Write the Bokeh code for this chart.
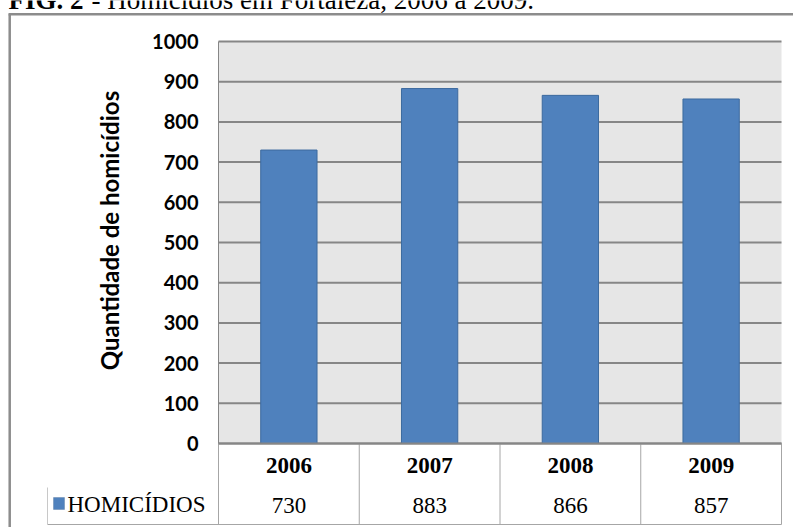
import math
from bokeh.plotting import figure
from bokeh.models import Range1d, FixedTicker, Label, BoxAnnotation, ColumnDataSource
from bokeh.core.properties import value
from bokeh.embed import file_html
from bokeh.resources import INLINE

# ---- data ----
years = ["2006", "2007", "2008", "2009"]
homicidios = [730, 883, 866, 857]
y_ticks = [0, 100, 200, 300, 400, 500, 600, 700, 800, 900, 1000]
series_name = "HOMICÍDIOS"
y_label = "Quantidade de homicídios"
title_bold = "FIG. 2"
title_rest = "- Homicídios em Fortaleza, 2006 a 2009."

# ---- layout (pixels) ----
W, H = 793, 527
FL, FR, FT, FB = 218, 781, 41, 443      # plot area inside the page
TABLE_BOTTOM = 524
Y_MAX = 1000
N = len(years)

BAR = "#4F81BD"
BAR_EDGE = "#3C6A9E"
GRID = "#868686"
TABLE = "#a6a6a6"
FRAME = "#8c8c8c"
SERIF = "Liberation Serif"
SANS = "Lato"


def dx(px):
    return (px - FL) / (FR - FL) * N


def dy(py):
    return (FB - py) / (FB - FT) * Y_MAX


x_pos = [i + 0.5 for i in range(N)]          # category centres
x_edges = list(range(N + 1))                 # category boundaries

p = figure(width=W, height=H,
           x_range=Range1d(dx(0), dx(W)),
           y_range=Range1d(dy(H), dy(0)),
           output_backend="svg", toolbar_location=None, min_border=0)

p.background_fill_color = "white"
p.border_fill_color = "white"
p.outline_line_color = None
p.xgrid.visible = False
p.ygrid.visible = False

# grey plot area
p.add_layout(BoxAnnotation(left=0, right=N, bottom=0, top=Y_MAX,
                           fill_color="#E6E6E6", fill_alpha=1,
                           line_alpha=0, level="image"))

# horizontal grid lines limited to the plot area
p.segment(x0=[0] * len(y_ticks), y0=y_ticks, x1=[N] * len(y_ticks), y1=y_ticks,
          line_color=GRID, line_width=2, level="underlay")

p.vbar(x=x_pos, top=homicidios, width=0.4, fill_color=BAR,
       line_color=BAR_EDGE, line_width=1)

# y axis (drawn at the left edge of the plot area)
ya = p.yaxis[0]
ya.fixed_location = 0
ya.bounds = (0, Y_MAX)
ya.ticker = FixedTicker(ticks=y_ticks)
ya.major_tick_line_color = None
ya.minor_tick_line_color = None
ya.major_tick_out = 0
ya.major_tick_in = 0
ya.axis_line_color = GRID
ya.axis_line_width = 1
ya.major_label_standoff = 20
ya.major_label_text_font = SANS
ya.major_label_text_font_style = "bold"
ya.major_label_text_font_size = "20px"
ya.major_label_text_color = "black"

# x axis -> header row of the data table
xa = p.xaxis[0]
xa.fixed_location = 0
xa.bounds = (0, N)
xa.ticker = FixedTicker(ticks=x_pos)
xa.major_label_overrides = {x: yr for x, yr in zip(x_pos, years)}
xa.major_tick_line_color = None
xa.minor_tick_line_color = None
xa.major_tick_out = 0
xa.major_tick_in = 0
xa.axis_line_color = GRID
xa.axis_line_width = 2
xa.major_label_standoff = 14
xa.major_label_text_font = SERIF
xa.major_label_text_font_style = "bold"
xa.major_label_text_font_size = "23px"
xa.major_label_text_color = "black"

# y axis title
p.add_layout(Label(x=dx(109), y=dy(230), text=y_label, angle=math.pi / 2,
                   text_align="center", text_baseline="middle",
                   text_font=SANS, text_font_style="bold",
                   text_font_size="24px", text_color="black"))

# table grid lines
yb = dy(TABLE_BOTTOM)
p.segment(x0=x_edges, y0=[0] * len(x_edges), x1=x_edges, y1=[yb] * len(x_edges),
          line_color=TABLE, line_width=1)
p.segment(x0=[dx(47)], y0=[yb], x1=[N], y1=[yb], line_color=TABLE, line_width=1)
p.segment(x0=[dx(47)], y0=[dy(487)], x1=[dx(47)], y1=[yb],
          line_color="#c8c8c8", line_width=1)

# outer frame (left and top edges visible)
p.segment(x0=[dx(9.2), dx(8)], y0=[dy(13.8), dy(13.8)],
          x1=[dx(9.2), dx(W)], y1=[dy(H), dy(13.8)],
          line_color=FRAME, line_width=2.5)

# value row of the table
src = ColumnDataSource(dict(x=x_pos, txt=[str(v) for v in homicidios]))
p.text(x="x", y=dy(505), text="txt", source=src, text_align="center",
       text_baseline="middle", text_font=value(SERIF),
       text_font_size="23px", text_color="black")

# legend key + series name
p.add_layout(BoxAnnotation(left=dx(53), right=dx(64), top=dy(497), bottom=dy(509),
                           fill_color=BAR, fill_alpha=1, line_color="#385D8A",
                           line_width=1))
p.add_layout(Label(x=dx(67), y=dy(504), text=series_name, text_align="left",
                   text_baseline="middle", text_font=SERIF,
                   text_font_size="23px", text_color="black"))

# figure caption (cut off at the top of the page, as in the source)
p.add_layout(Label(x=dx(8), y=dy(-1), text=title_bold, text_align="left",
                   text_baseline="alphabetic", text_font=SERIF,
                   text_font_style="bold", text_font_size="27px",
                   text_color="black"))
p.add_layout(Label(x=dx(91), y=dy(-1), text=title_rest, text_align="left",
                   text_baseline="alphabetic", text_font=SERIF,
                   text_font_size="27px", text_color="black"))

open("out.html", "w").write(file_html(p, INLINE))
